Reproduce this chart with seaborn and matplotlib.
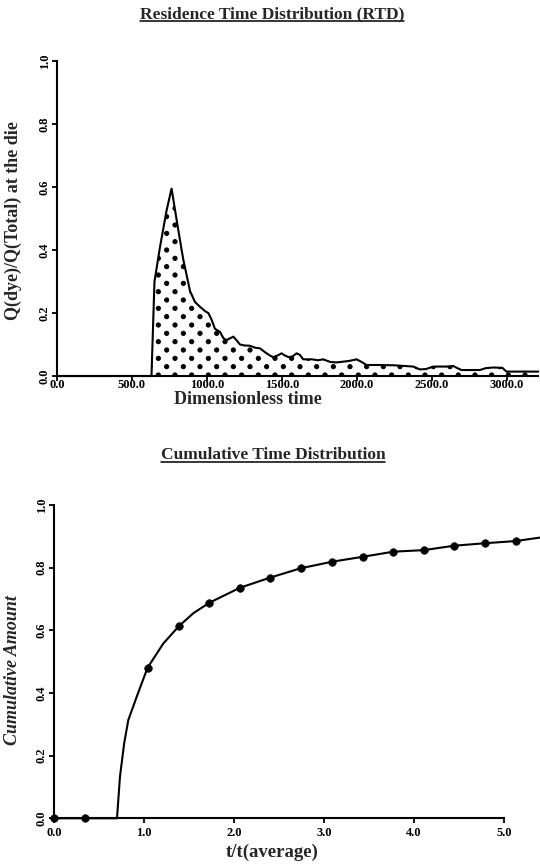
import matplotlib
matplotlib.use("Agg")
import numpy as np
import matplotlib.pyplot as plt
import matplotlib.hatch as mhatch
from matplotlib.path import Path
from matplotlib.lines import Line2D
import seaborn as sns
import pandas as pd

# ---------------- data ----------------
rtd_time = [0, 630, 650, 687, 731, 764, 809, 842, 887, 920, 953, 990, 1009, 1030,
            1053, 1087, 1110, 1131, 1155, 1176, 1200, 1220, 1250, 1287, 1320, 1353,
            1375, 1398, 1420, 1442, 1470, 1498, 1520, 1545, 1570, 1598, 1620, 1642,
            1700, 1740, 1776, 1820, 1860, 1900, 1950, 1998, 2030, 2064, 2150, 2250,
            2376, 2420, 2460, 2509, 2600, 2642, 2670, 2698, 2820, 2860, 2909, 2970,
            2998, 3210]
rtd_value = [0.0, 0.0, 0.30, 0.41, 0.526, 0.595, 0.463, 0.37, 0.27, 0.235, 0.22, 0.205,
             0.20, 0.18, 0.15, 0.14, 0.12, 0.114, 0.12, 0.125, 0.112, 0.10, 0.097, 0.096,
             0.09, 0.088, 0.08, 0.072, 0.065, 0.06, 0.065, 0.072, 0.065, 0.06, 0.062,
             0.072, 0.067, 0.053, 0.053, 0.05, 0.053, 0.045, 0.043, 0.045, 0.048, 0.053,
             0.045, 0.035, 0.035, 0.034, 0.03, 0.021, 0.022, 0.03, 0.03, 0.032, 0.025,
             0.019, 0.019, 0.025, 0.027, 0.026, 0.014, 0.014]

cum_x = [0.0, 0.343, 0.70, 0.733, 0.78, 0.826, 0.919, 1.04, 1.215, 1.39, 1.55, 1.726,
         2.067, 2.40, 2.74, 3.09, 3.437, 3.77, 4.11, 4.444, 4.789, 5.13, 5.40]
cum_y = [0.0, 0.0, 0.0, 0.133, 0.24, 0.314, 0.388, 0.481, 0.558, 0.614, 0.655, 0.688,
         0.736, 0.768, 0.798, 0.819, 0.835, 0.851, 0.856, 0.870, 0.878, 0.885, 0.896]

mark_x = [0.0, 0.343, 1.04, 1.39, 1.726, 2.067, 2.40, 2.74, 3.09, 3.437, 3.77, 4.11,
          4.444, 4.789, 5.13]
mark_y = [0.0, 0.0, 0.481, 0.614, 0.688, 0.736, 0.768, 0.798, 0.819, 0.835, 0.851,
          0.856, 0.870, 0.878, 0.885]

rtd_xticks = [0, 500, 1000, 1500, 2000, 2500, 3000]
y_ticks = [0.0, 0.2, 0.4, 0.6, 0.8, 1.0]
cum_xticks = [0.0, 1.0, 2.0, 3.0, 4.0, 5.0]

title_top = "Residence Time Distribution (RTD)"
title_bot = "Cumulative Time Distribution"


# ------------- dotted hatch (diamond lattice of filled dots) -------------
class DiamondDots(mhatch.HatchPatternBase):
    size = 0.26

    def __init__(self, hatch, density):
        self.num_rows = hatch.count('.') * 12
        circ = Path.unit_circle()
        self.shape_vertices = circ.vertices
        self.shape_codes = circ.codes
        n = self.num_rows
        if n == 0:
            self.num_shapes = 0
            self.num_vertices = 0
        else:
            half = n // 2
            self.num_shapes = (half + 1) * (half + 1) + half * half
            self.num_vertices = self.num_shapes * len(self.shape_vertices)

    def set_vertices_and_codes(self, vertices, codes):
        n = self.num_rows
        off = 1.0 / n
        sv = self.shape_vertices * off * self.size
        parts_v, parts_c = [], []
        for row in range(n + 1):
            if row % 2 == 0:
                cols = np.arange(0, n + 1, 2) * off
            else:
                cols = np.arange(1, n, 2) * off
            for c in cols:
                parts_v.append(sv + [c, row * off])
                parts_c.append(self.shape_codes)
        vertices[:] = np.concatenate(parts_v)
        codes[:] = np.concatenate(parts_c)


mhatch._hatch_types = [DiamondDots if t is mhatch.SmallFilledCircles else t
                       for t in mhatch._hatch_types]

# ---------------- style ----------------
sns.set_style("ticks")
plt.rcParams["font.family"] = ["Liberation Serif", "DejaVu Serif"]
plt.rcParams["font.weight"] = "bold"
plt.rcParams["hatch.linewidth"] = 0.6
plt.rcParams["hatch.color"] = "black"

fig = plt.figure(figsize=(5.4, 8.64), dpi=100)
ax1 = fig.add_axes([0.1056, 0.5648, 0.8904, 0.3646])
ax2 = fig.add_axes([0.1, 0.0529, 0.9, 0.3626])

rtd = pd.DataFrame({"t": rtd_time, "q": rtd_value})
cum = pd.DataFrame({"x": cum_x, "y": cum_y})
mk = pd.DataFrame({"x": mark_x, "y": mark_y})

# top: RTD
ax1.fill_between(rtd["t"], 0, rtd["q"], facecolor="white", edgecolor="black",
                 hatch=".", linewidth=0)
sns.lineplot(data=rtd, x="t", y="q", ax=ax1, color="black", lw=1.5,
             estimator=None, sort=False, clip_on=False)
ax1.set_xlim(0, 3207)
ax1.set_ylim(0, 1.0)
ax1.set_xticks(rtd_xticks)
ax1.set_xticklabels([f"{v:.1f}" for v in rtd_xticks])
ax1.set_yticks(y_ticks)
ax1.set_yticklabels([f"{v:.1f}" for v in y_ticks])

# bottom: cumulative
sns.lineplot(data=cum, x="x", y="y", ax=ax2, color="black", lw=1.5,
             estimator=None, sort=False, clip_on=False)
sns.scatterplot(data=mk, x="x", y="y", ax=ax2, color="black", s=30,
                marker="o", edgecolor="black", clip_on=False, zorder=5)
ax2.set_xlim(0, 5.4)
ax2.set_ylim(0, 1.0)
ax2.set_xticks(cum_xticks)
ax2.set_xticklabels([f"{v:.1f}" for v in cum_xticks])
ax2.set_yticks(y_ticks)
ax2.set_yticklabels([f"{v:.1f}" for v in y_ticks])
ax2.spines["bottom"].set_bounds(0, 5.0)

for ax in (ax1, ax2):
    sns.despine(ax=ax)
    for s in ("left", "bottom"):
        ax.spines[s].set_linewidth(1.5)
        ax.spines[s].set_color("black")
    ax.tick_params(axis="both", length=3.5, width=1.3, color="black",
                   labelsize=9, labelcolor="black", pad=1)
    ax.tick_params(axis="y", labelrotation=90)
    for lab in ax.get_yticklabels():
        lab.set_va("center")
    for lab in ax.get_xticklabels() + ax.get_yticklabels():
        lab.set_fontweight("bold")
ax1.tick_params(axis="x", pad=-1.5)
ax2.tick_params(axis="x", pad=2.5)

ax1.set_xlabel("Dimensionless time", fontsize=13, fontweight="bold")
ax1.set_ylabel("Q(dye)/Q(Total) at the die", fontsize=13, fontweight="bold")
ax1.xaxis.set_label_coords(0.397, -0.047)
ax1.yaxis.set_label_coords(-0.072, 0.495)

ax2.set_xlabel("t/t(average)", fontsize=13.5, fontweight="bold")
ax2.set_ylabel("Cumulative Amount", fontsize=13, fontweight="bold", style="italic")
ax2.xaxis.set_label_coords(0.449, -0.082)
ax2.yaxis.set_label_coords(-0.068, 0.473)

t1 = fig.text(272 / 540, 1 - 14 / 864, title_top, ha="center", va="center",
              fontsize=12.5, fontweight="bold")
t2 = fig.text(273 / 540, 1 - 455 / 864, title_bot, ha="center", va="center",
              fontsize=12.5, fontweight="bold")

fig.canvas.draw()
r = fig.canvas.get_renderer()
for t in (t1, t2):
    bb = t.get_window_extent(r).transformed(fig.transFigure.inverted())
    yl = bb.y0 + 0.0008
    fig.add_artist(Line2D([bb.x0, bb.x1], [yl, yl], transform=fig.transFigure,
                          color="black", lw=1.1))

fig.savefig("out.png", dpi=100)
